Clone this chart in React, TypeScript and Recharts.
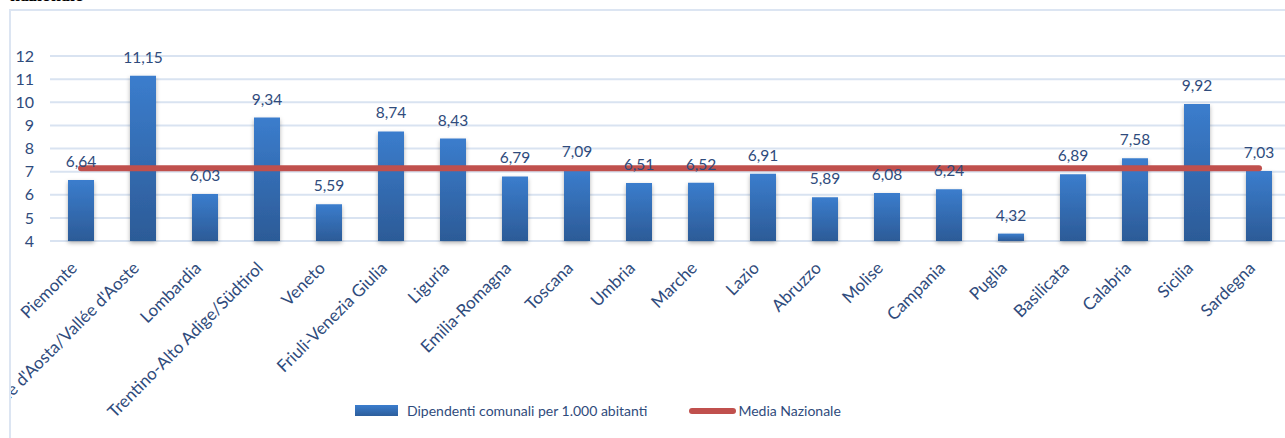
import { Bar, CartesianGrid, ComposedChart, LabelList, Legend, Line, XAxis, YAxis } from 'recharts';

const regions = [
  'Piemonte',
  "Valle d'Aosta/Vallée d'Aoste",
  'Lombardia',
  'Trentino-Alto Adige/Südtirol',
  'Veneto',
  'Friuli-Venezia Giulia',
  'Liguria',
  'Emilia-Romagna',
  'Toscana',
  'Umbria',
  'Marche',
  'Lazio',
  'Abruzzo',
  'Molise',
  'Campania',
  'Puglia',
  'Basilicata',
  'Calabria',
  'Sicilia',
  'Sardegna',
];

const dipendenti = [
  6.64, 11.15, 6.03, 9.34, 5.59, 8.74, 8.43, 6.79, 7.09, 6.51, 6.52, 6.91, 5.89, 6.08, 6.24, 4.32, 6.89,
  7.58, 9.92, 7.03,
];

// national average, flat across all regions
const mediaNazionale = 7.15;

const yTicks = [4, 5, 6, 7, 8, 9, 10, 11, 12];

const TEXT = '#2F4B7C';
const FONT = 'Lato, "Noto Sans", sans-serif';
const CLIP_X = 11; // chart is cut at the frame's left border

const data = regions.map((name, i) => ({
  name,
  dipendenti: dipendenti[i],
  media: mediaNazionale,
}));

const fmt = (v: number) => v.toFixed(2).replace('.', ',');

function RotatedTick({ x, y, payload }: any) {
  return (
    <g transform={`translate(${x - 7},${y + 16})`}>
      <text
        textAnchor="end"
        transform="rotate(-45)"
        dy="0.35em"
        fill={TEXT}
        fontSize={17}
        fontFamily={FONT}
      >
        {payload.value}
      </text>
    </g>
  );
}

function LegendBox() {
  return (
    <div style={{ display: 'flex', alignItems: 'center', fontFamily: FONT, fontSize: 14, color: TEXT }}>
      <span
        style={{
          display: 'inline-block',
          width: 43,
          height: 11,
          background: 'linear-gradient(#3B7DCD, #2D5E9C)',
          marginRight: 9,
        }}
      />
      <span>Dipendenti comunali per 1.000 abitanti</span>
      <span
        style={{
          display: 'inline-block',
          width: 47,
          height: 6,
          borderRadius: 3,
          background: '#C0504D',
          marginLeft: 42,
          marginRight: 2,
        }}
      />
      <span>Media Nazionale</span>
    </div>
  );
}

export default function App() {
  return (
    <div
      style={{
        position: 'absolute',
        left: 0,
        top: 0,
        width: 1285,
        height: 438,
        overflow: 'hidden',
        background: '#fff',
      }}
    >
      <div
        style={{
          position: 'absolute',
          left: 10,
          top: -15,
          fontFamily: 'serif',
          fontWeight: 'bold',
          fontSize: 18,
          color: '#000',
        }}
      >
        nazionale
      </div>
      <div
        style={{
          position: 'absolute',
          left: 9,
          top: 9,
          width: 1400,
          height: 500,
          borderLeft: '2px solid #DCE5F2',
          borderTop: '2px solid #DCE5F2',
        }}
      />
      <div
        style={{
          position: 'absolute',
          left: CLIP_X,
          top: 11,
          width: 1285 - CLIP_X,
          height: 438 - 11,
          overflow: 'hidden',
        }}
      >
        <div style={{ position: 'absolute', left: -CLIP_X, top: -11 }}>
          <ComposedChart
            width={1300}
            height={438}
            data={data}
            margin={{ top: 56, right: 10, bottom: 0, left: 0 }}
          >
            <defs>
              <linearGradient id="barFill" x1="0" y1="0" x2="0" y2="1">
                <stop offset="0%" stopColor="#3B7DCD" />
                <stop offset="100%" stopColor="#2C5B97" />
              </linearGradient>
              <filter id="barShadow" x="-30%" y="-10%" width="160%" height="130%">
                <feDropShadow dx="0" dy="2" stdDeviation="2" floodColor="#000" floodOpacity="0.3" />
              </filter>
            </defs>
            <CartesianGrid vertical={false} stroke="#D9E3F1" strokeWidth={2} />
            <XAxis
              dataKey="name"
              interval={0}
              axisLine={false}
              tickLine={false}
              height={180}
              tick={<RotatedTick />}
            />
            <YAxis
              domain={[4, 12]}
              ticks={yTicks}
              width={50}
              axisLine={false}
              tickLine={false}
              tickSize={6}
              tickMargin={10}
              tick={{ fontSize: 16, fill: TEXT, fontFamily: FONT }}
            />
            <Legend
              verticalAlign="bottom"
              content={<LegendBox />}
              wrapperStyle={{ left: 355, top: 402, width: 700 }}
            />
            <Bar
              dataKey="dipendenti"
              barSize={26}
              fill="url(#barFill)"
              filter="url(#barShadow)"
              isAnimationActive={false}
            >
              <LabelList
                dataKey="dipendenti"
                position="top"
                offset={13}
                formatter={(v: any) => fmt(Number(v))}
                fill={TEXT}
                fontSize={15.5}
                fontFamily={FONT}
              />
            </Bar>
            <Line
              dataKey="media"
              stroke="#C0504D"
              strokeWidth={6}
              strokeLinecap="round"
              dot={false}
              activeDot={false}
              isAnimationActive={false}
            />
          </ComposedChart>
        </div>
      </div>
    </div>
  );
}
